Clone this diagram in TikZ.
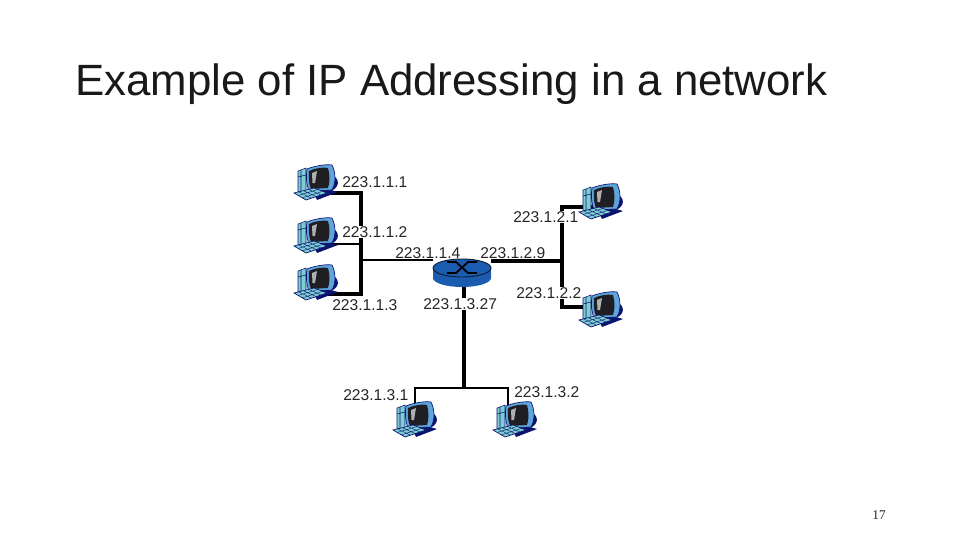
\documentclass[tikz,border=0pt]{standalone}
\usepackage{fontspec}
\usetikzlibrary{backgrounds}
\setmainfont{Liberation Sans}
\newfontfamily\pagefont{Liberation Serif}
\definecolor{netblue}{RGB}{28,92,176}
\definecolor{navy}{RGB}{10,20,110}
\definecolor{frameblue}{RGB}{95,165,220}
\definecolor{teal}{RGB}{125,205,210}
\definecolor{screen}{RGB}{30,30,35}
\tikzset{
  x=0.75pt,y=-0.75pt,
  addr/.style={font=\fontsize{11.7pt}{14pt}\selectfont,text=black!85,inner sep=0pt,anchor=west},
  addrcut/.style={addr,fill=white,inner ysep=0.5pt},
  thick wire/.style={line width=2.28pt,black},
  mid wire/.style={line width=1.7pt,black},
  thin wire/.style={line width=1.5pt,black},
  host/.pic={
    \coordinate (-p) at (30,28);
    \coordinate (-t) at (22,12);
    \fill[teal,draw=navy,line width=.4pt] (4,6)--(12,3)--(12,26)--(4,27)--cycle;
    \draw[navy,line width=.4pt] (7,5)--(7,26.5) (4,12)--(12,10);
    \fill[navy] (38,10) .. controls (46,14) and (46,22) .. (37,26) -- (33,25) -- (38,20) -- cycle;
    \fill[navy] (18,25)--(30,23)--(44,27)--(23,35)--cycle;
    \fill[frameblue,draw=navy,line width=.5pt] (13,4) .. controls (20,1) and (32,-1) .. (38,0)
      .. controls (42,8) and (42,18) .. (38,25) -- (15,26) .. controls (12,18) and (12,10) .. (13,4) -- cycle;
    \fill[screen] (15,6) .. controls (21,3) and (29,2) .. (34,3)
      .. controls (36,10) and (36,17) .. (34,23) -- (17,24) .. controls (14.5,18) and (14.5,11) .. (15,6) -- cycle;
    \fill[white!65!screen] (18,8) -- (23,6) -- (21,18) -- (18.5,18) -- cycle;
    \fill[teal,draw=navy,line width=.5pt] (0,28)--(20,23)--(33,28)--(12,35)--cycle;
    \draw[navy,line width=.3pt] (5,27)--(17,33) (10,26)--(22,31.5) (15,24.5)--(27,30) (4,30.5)--(24,24.5) (8,33)--(28,26.5);
  },
  netrouter/.pic={
    \coordinate (-w) at (-29,-8);
    \coordinate (-e) at (29,-7);
    \coordinate (-s) at (2,14);
    \fill[netblue] (-29,0) -- (-29,10) arc[start angle=180,end angle=0,x radius=29,y radius=9] -- (29,0) -- cycle;
    \fill[netblue,draw=black!70!netblue,line width=.7pt] (0,0) ellipse[x radius=29,y radius=9];
    \draw[black,line width=1.4pt] (-15,-6)--(-6,-6)--(6,5)--(15,5);
    \draw[black,line width=1.4pt] (-15,5)--(-6,5)--(6,-6)--(15,-6);
  }
}
\begin{document}
\begin{tikzpicture}
\useasboundingbox (0,0) rectangle (960,540);
\node[font=\fontsize{32.85pt}{38pt}\selectfont,text=black!90,inner sep=0pt,anchor=west] (title) at (75,84) {Example of IP Addressing in a network};

\pic (h1) at (294,165) {host};
\pic (h2) at (294,218) {host};
\pic (h3) at (294,265) {host};
\pic (h4) at (579,184) {host};
\pic (h5) at (579,292) {host};
\pic (h6) at (393,402) {host};
\pic (h7) at (493,402) {host};
\pic (r) at (462,268) {netrouter};

\coordinate (busA) at (361,193);
\coordinate (busB) at (361,244);
\coordinate (busC) at (361,294);
\coordinate (busD) at (361,260);
\coordinate (busE) at (562,207);
\coordinate (busF) at (562,261);
\coordinate (busG) at (562,307);
\coordinate (busH) at (464,388);
\coordinate (busI) at (415,388);
\coordinate (busJ) at (508,388);

\node[addr] (a1) at (342,182) {223.1.1.1};
\node[addrcut] (a2) at (342,232) {223.1.1.2};
\node[addr] (a3) at (332,305) {223.1.1.3};
\node[addr] (a4) at (395,253) {223.1.1.4};
\node[addrcut] (b1) at (513,217) {223.1.2.1};
\node[addr] (b9) at (480,253) {223.1.2.9};
\node[addrcut] (b2) at (516,293) {223.1.2.2};
\node[addrcut] (c27) at (423,304) {223.1.3.27};
\node[addr] (c1) at (343,395) {223.1.3.1};
\node[addr] (c2) at (514,392) {223.1.3.2};
\node[font=\pagefont\fontsize{10pt}{12pt}\selectfont,text=black!85,inner sep=0pt] (pg) at (879,515) {17};

\begin{scope}[on background layer]
\draw[thick wire] (h1-p |- busA) -- (busA) -- (busC) -- (h3-p |- busC);
\draw[thin wire] (h2-p |- busB) -- (busB);
\draw[thin wire] (busD) -- (busD -| r-w);
\draw[thick wire] (busF -| r-e) -- (busF);
\draw[thick wire] (h4-t |- busE) -- (busE) -- (busG) -- (h5-t |- busG);
\draw[thick wire] (r-s) -- (busH);
\draw[mid wire] (busI |- h6-t) -- (busI) -- (busJ) -- (busJ |- h7-t);
\end{scope}
\end{tikzpicture}
\end{document}
